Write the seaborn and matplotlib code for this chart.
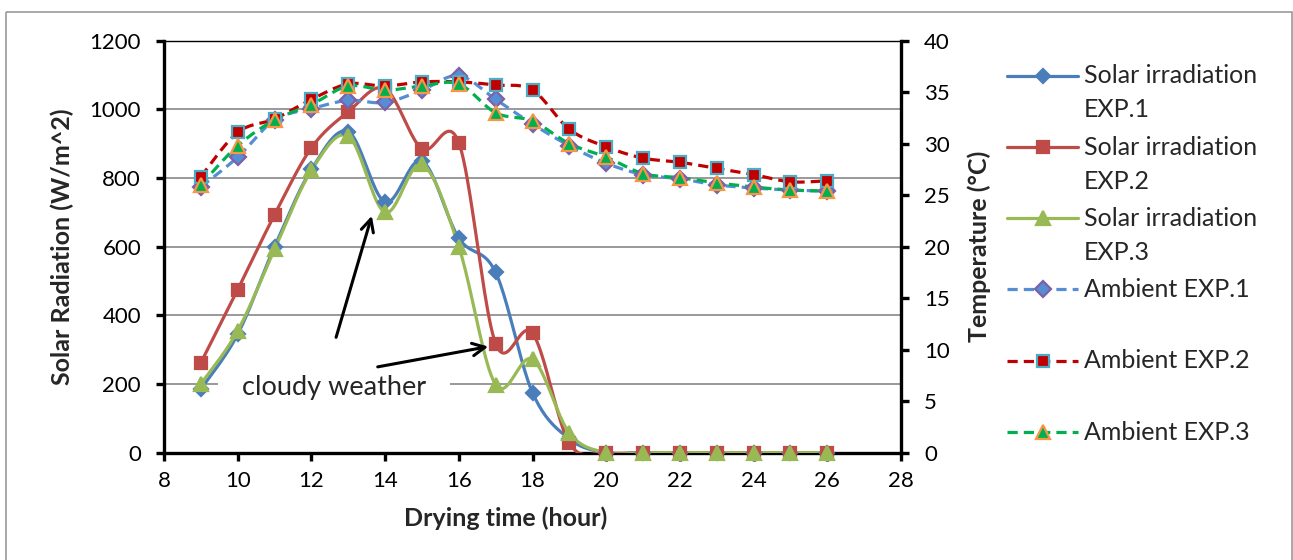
import numpy as np
import matplotlib
matplotlib.use("Agg")
import matplotlib.pyplot as plt
from matplotlib.lines import Line2D
from matplotlib.patches import Rectangle
import seaborn as sns

# ---------------- data ----------------
hours = [9, 10, 11, 12, 13, 14, 15, 16, 17, 18, 19, 20, 21, 22, 23, 24, 25, 26]
solar_exp1 = [185, 345, 600, 825, 935, 730, 850, 625, 525, 175, 40, 0, 0, 0, 0, 0, 0, 0]
solar_exp2 = [262, 475, 693, 888, 993, 1060, 885, 903, 318, 348, 28, 0, 0, 0, 0, 0, 0, 0]
solar_exp3 = [200, 355, 592, 822, 922, 700, 840, 600, 198, 272, 57, 0, 0, 0, 0, 0, 0, 0]
amb_exp1 = [25.8, 28.7, 32.3, 33.4, 34.2, 34.0, 35.2, 36.6, 34.3, 31.9, 29.8, 28.1, 27.0, 26.6, 26.0, 25.7, 25.5, 25.4]
amb_exp2 = [26.8, 31.1, 32.4, 34.3, 35.8, 35.6, 36.0, 36.0, 35.7, 35.2, 31.4, 29.7, 28.6, 28.2, 27.6, 27.0, 26.3, 26.4]
amb_exp3 = [26.0, 29.8, 32.3, 33.8, 35.6, 35.2, 35.6, 35.8, 33.0, 32.2, 30.0, 28.7, 27.1, 26.7, 26.2, 25.8, 25.5, 25.4]

x_ticks = [8, 10, 12, 14, 16, 18, 20, 22, 24, 26, 28]
y_ticks = [0, 200, 400, 600, 800, 1000, 1200]
y2_ticks = [0, 5, 10, 15, 20, 25, 30, 35, 40]

labels = ["Solar irradiation\nEXP.1", "Solar irradiation\nEXP.2", "Solar irradiation\nEXP.3",
          "Ambient EXP.1", "Ambient EXP.2", "Ambient EXP.3"]

# ---------------- style ----------------
sns.set_style("white")
plt.rcParams["font.family"] = ["Lato", "DejaVu Sans"]
FS_TICK = 16
FS = 18

W, H = 1293, 560
fig = plt.figure(figsize=(W / 100, H / 100), dpi=100)

L, R, T, B = 164, 901, 40.7, 452.7
ax = fig.add_axes([L / W, 1 - B / H, (R - L) / W, (B - T) / H])
ax2 = ax.twinx()


def smooth(x, y, n=24):
    """Excel-like smoothed line (Catmull-Rom Bezier)."""
    pts = np.column_stack([np.asarray(x, float), np.asarray(y, float)])
    P = np.vstack([pts[0], pts, pts[-1]])
    out = []
    t = np.linspace(0, 1, n)[:, None]
    for i in range(1, len(P) - 2):
        p0, p1, p2, p3 = P[i - 1], P[i], P[i + 1], P[i + 2]
        c1 = p1 + (p2 - p0) / 6
        c2 = p2 - (p3 - p1) / 6
        seg = (1 - t) ** 3 * p1 + 3 * (1 - t) ** 2 * t * c1 + 3 * (1 - t) * t ** 2 * c2 + t ** 3 * p2
        out.append(seg if i == 1 else seg[1:])
    return np.vstack(out)


series = [
    # axis, values, line colour, marker, size, face, edge, dashed
    (ax, solar_exp1, "#4A7EBB", "D", 7.5, "#4A7EBB", "#4A7EBB", False),
    (ax, solar_exp2, "#BE4B48", "s", 9.0, "#BE4B48", "#BE4B48", False),
    (ax, solar_exp3, "#98B954", "^", 10.5, "#98B954", "#98B954", False),
    (ax2, amb_exp1, "#558ED5", "D", 8.0, "#558ED5", "#7F5FA6", True),
    (ax2, amb_exp2, "#C00000", "s", 9.0, "#C00000", "#4BACC6", True),
    (ax2, amb_exp3, "#00B050", "^", 10.0, "#00B050", "#F79646", True),
]

for a, vals, col, mk, ms, fc, ec, dashed in series:
    c = smooth(hours, vals)
    sns.lineplot(x=c[:, 0], y=c[:, 1], ax=a, color=col, linewidth=2.3,
                 sort=False, estimator=None, zorder=3)
    ln = a.lines[-1]
    if dashed:
        ln.set_dashes((3.2, 1.9))
    a.plot(hours, vals, linestyle="none", marker=mk, markersize=ms,
           markerfacecolor=fc, markeredgecolor=ec, markeredgewidth=1.6,
           clip_on=False, zorder=4)

# ---------------- axes ----------------
ax.set_xlim(8, 28)
ax.set_ylim(0, 1200)
ax2.set_ylim(0, 40)
ax.set_xticks(x_ticks)
ax.set_yticks(y_ticks)
ax2.set_yticks(y2_ticks)
ax.set_xlabel("")
ax.set_ylabel("")
ax2.set_ylabel("")

ax.yaxis.grid(True, color="#878787", linewidth=1.2)
ax.xaxis.grid(False)
ax.set_axisbelow(True)

for s in ["left", "bottom"]:
    ax.spines[s].set_linewidth(2.4)
    ax.spines[s].set_color("black")
    ax.spines[s].set_zorder(2.5)
ax.spines["right"].set_visible(False)
ax.spines["top"].set_linewidth(1.0)
ax.spines["top"].set_color("black")
for s in ["left", "bottom", "top"]:
    ax2.spines[s].set_visible(False)
ax2.spines["right"].set_linewidth(2.4)
ax2.spines["right"].set_color("black")

ax.tick_params(axis="both", direction="out", length=5.5, width=2.4, color="black",
               labelsize=FS_TICK, labelcolor="black")
ax.tick_params(axis="y", pad=11, left=True)
ax.tick_params(axis="x", pad=8, bottom=True)
ax2.tick_params(axis="y", direction="out", length=5.5, width=2.4, color="black",
                labelsize=FS_TICK, labelcolor="black", pad=11, right=True)

# ---------------- annotation ----------------
ax.text(12.62, 191, "   cloudy weather   ", fontsize=19.5, ha="center", va="center",
        zorder=5, bbox=dict(facecolor="white", edgecolor="none", pad=2))
arrow = dict(arrowstyle="->,head_length=0.9,head_width=0.45", color="black", lw=2.2,
             shrinkA=0, shrinkB=0)
ax.annotate("", xy=(13.64, 690), xytext=(12.67, 336), arrowprops=arrow, zorder=6)
ax.annotate("", xy=(16.80, 309), xytext=(13.80, 250), arrowprops=arrow, zorder=6)

# ---------------- axis titles ----------------
fig.text(506 / W, 1 - 518 / H, "Drying time (hour)", fontsize=FS, fontweight="bold",
         ha="center", va="center")
fig.text(62 / W, 1 - 246.7 / H, "Solar Radiation (W/m^2)", fontsize=FS, fontweight="bold",
         ha="center", va="center", rotation=90)
fig.text(979 / W, 1 - 246.7 / H, "Temperature (°C)", fontsize=FS, fontweight="bold",
         ha="center", va="center", rotation=90)

# ---------------- legend & frame (overlay) ----------------
lax = fig.add_axes([0, 0, 1, 1], zorder=10)
lax.set_xlim(0, W)
lax.set_ylim(H, 0)
lax.axis("off")
lax.add_patch(Rectangle((6, 11.5), 1286, 560, fill=False, edgecolor="#9A9A9A",
                        linewidth=1.2, clip_on=False))

base0 = 83.3
step = 71.3
for i, (lab, (_, _, col, mk, ms, fc, ec, dashed)) in enumerate(zip(labels, series)):
    bl = base0 + i * step
    yc = bl - 7.8
    h = Line2D([1007, 1078], [yc, yc], color=col, linewidth=2.3)
    if dashed:
        h.set_dashes((3.2, 1.9))
    lax.add_line(h)
    lax.add_line(Line2D([1042.5], [yc], linestyle="none", marker=mk, markersize=ms,
                        markerfacecolor=fc, markeredgecolor=ec, markeredgewidth=1.6))
    for j, part in enumerate(lab.split("\n")):
        lax.text(1084, bl + j * 34, part, fontsize=FS, ha="left", va="baseline")

fig.savefig("out.png", dpi=100)
